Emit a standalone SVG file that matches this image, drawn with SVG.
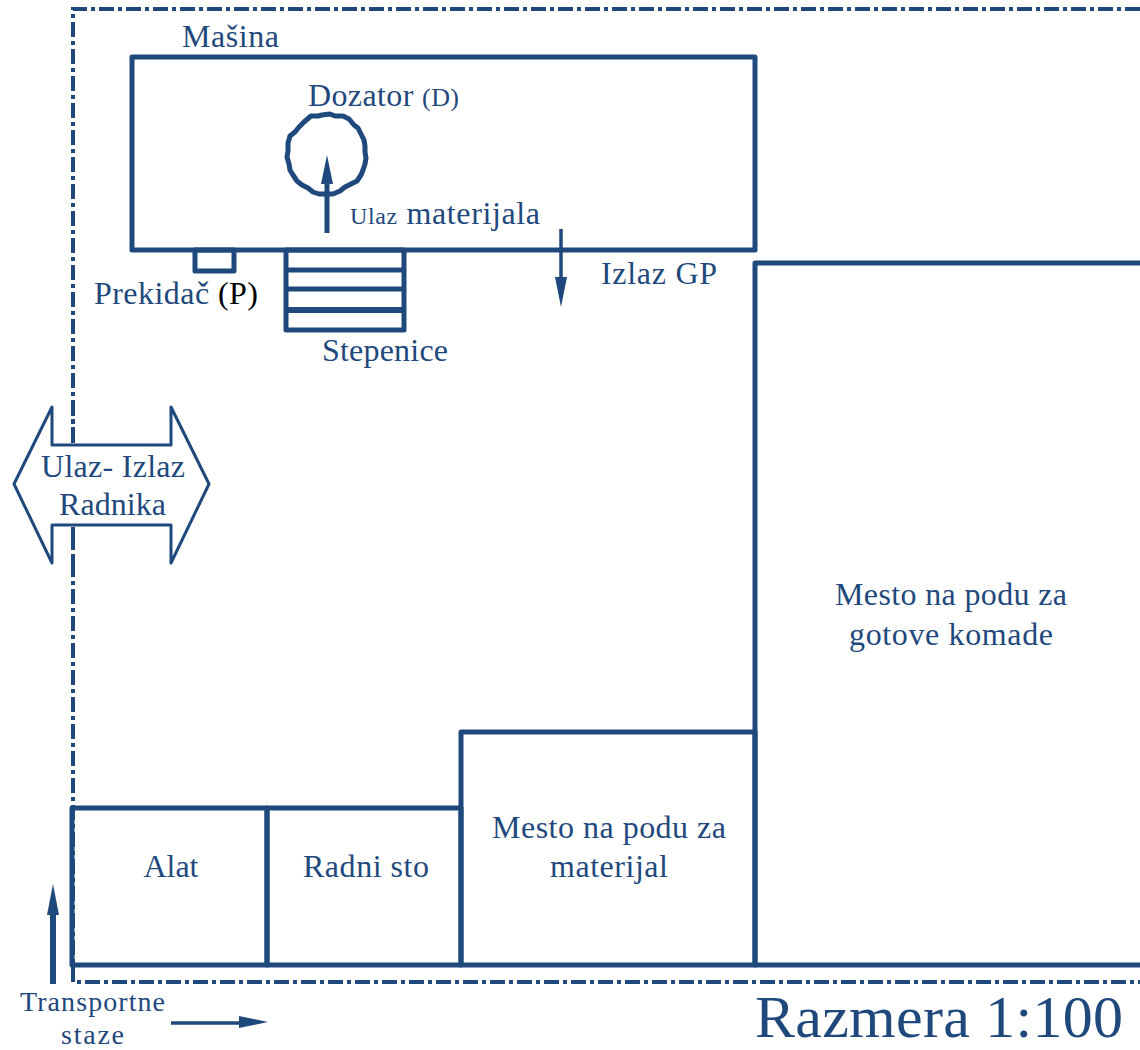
<svg xmlns="http://www.w3.org/2000/svg" width="1140" height="1050" viewBox="0 0 1140 1050">
<style>
text{font-family:"Liberation Serif","Times New Roman",serif;fill:#1F497D;font-size:32px}
.w{fill:none;stroke:#1F497D;stroke-width:5;stroke-linejoin:round}
.b{fill:none;stroke:#1F497D;stroke-width:4;stroke-dasharray:15 4 4 4}
.a{fill:none;stroke:#1F497D;stroke-width:5}
.h{fill:#1F497D}
.m{text-anchor:middle}
</style>
<rect width="1140" height="1050" fill="#fff"/>
<g id="boundary">
<path class="b" d="M1140 9H73V982H1140"/>
</g>
<g id="masina">
<rect class="w" x="132" y="57" width="623" height="193"/>
<text x="182" y="47" textLength="97" lengthAdjust="spacing">Mašina</text>
</g>
<g id="dozator">
<path class="w" d="M311 116L318 116L322 115L330 114L335 116L343 116L349 119L354 125L358 128L361 134L364 140L365 146L365 152L366 158L365 164L363 170L361 175L357 181L351 184L345 187L340 191L333 194H325L319 194L313 192L308 188L302 185L297 181L293 175L290 170L289 164L287 157L288 151L288 143L290 136L295 132L299 127L304 122Z"/>
<text x="308" y="106" textLength="151" lengthAdjust="spacing">Dozator <tspan style="font-size:26px">(D)</tspan></text>
</g>
<g id="prekidac">
<rect class="w" x="195" y="250" width="39" height="21"/>
<text x="94" y="304" textLength="164" lengthAdjust="spacing">Prekidač <tspan style="fill:#000">(P)</tspan></text>
</g>
<g id="stepenice">
<rect class="w" x="286" y="250" width="118" height="80"/>
<path class="w" d="M286 270H404M286 289H404"/>
<path class="w" d="M286 310H404" style="stroke-width:6"/>
<text x="322" y="361" textLength="126" lengthAdjust="spacing">Stepenice</text>
</g>
<g id="ulaz-izlaz-radnika">
<path d="M52 407L14 484L52 563V525H171V563L209 484L171 407V445H52Z" fill="#fff" stroke="#1F497D" stroke-width="3" stroke-linejoin="round"/>
<path class="b" d="M73 443V407M73 527V570"/>
<text x="41" y="477" textLength="144" lengthAdjust="spacing">Ulaz- Izlaz</text>
<text x="59" y="515" textLength="107" lengthAdjust="spacing">Radnika</text>
</g>
<g id="gotovi-komadi">
<path class="w" d="M1140 263H755V965H1140"/>
<text class="m" x="951" y="605" textLength="232" lengthAdjust="spacing">Mesto na podu za</text>
<text class="m" x="951" y="645" textLength="204" lengthAdjust="spacing">gotove komade</text>
</g>
<g id="materijal">
<rect class="w" x="461" y="732" width="294" height="233"/>
<text class="m" x="609" y="838" textLength="234" lengthAdjust="spacing">Mesto na podu za</text>
<text class="m" x="609" y="877" textLength="118" lengthAdjust="spacing">materijal</text>
</g>
<g id="radni-sto">
<rect class="w" x="267" y="808" width="194" height="157"/>
<text class="m" x="366" y="877" textLength="126" lengthAdjust="spacing">Radni sto</text>
</g>
<g id="alat">
<rect class="w" x="72" y="808" width="195" height="157"/>
<text class="m" x="171" y="877" textLength="55" lengthAdjust="spacing">Alat</text>
</g>
<g id="connectors">
<path class="a" d="M327 233V183"/><path class="h" d="M327 155L333 184H321Z"/>
<path class="a" d="M561 229V278" style="stroke-width:3.5"/><path class="h" d="M561 307L555 277H567Z"/>
<path class="a" d="M53 984V914" style="stroke-width:6"/><path class="h" d="M53 884L59 915H47Z"/>
<path class="a" d="M171 1023H240" style="stroke-width:3.5"/><path class="h" d="M268 1022L239 1016V1028Z"/>
</g>
<g id="labels">
<text x="350" y="224" textLength="190" lengthAdjust="spacing"><tspan style="font-size:24px">Ulaz</tspan> materijala</text>
<text x="601" y="284" textLength="116" lengthAdjust="spacing">Izlaz GP</text>
<text x="20" y="1011" style="font-size:28px" textLength="145" lengthAdjust="spacing">Transportne</text>
<text x="61" y="1044" style="font-size:28px" textLength="63" lengthAdjust="spacing">staze</text>
<text x="755" y="1037" style="font-size:60px" textLength="368" lengthAdjust="spacing">Razmera 1:100</text>
</g>
</svg>
